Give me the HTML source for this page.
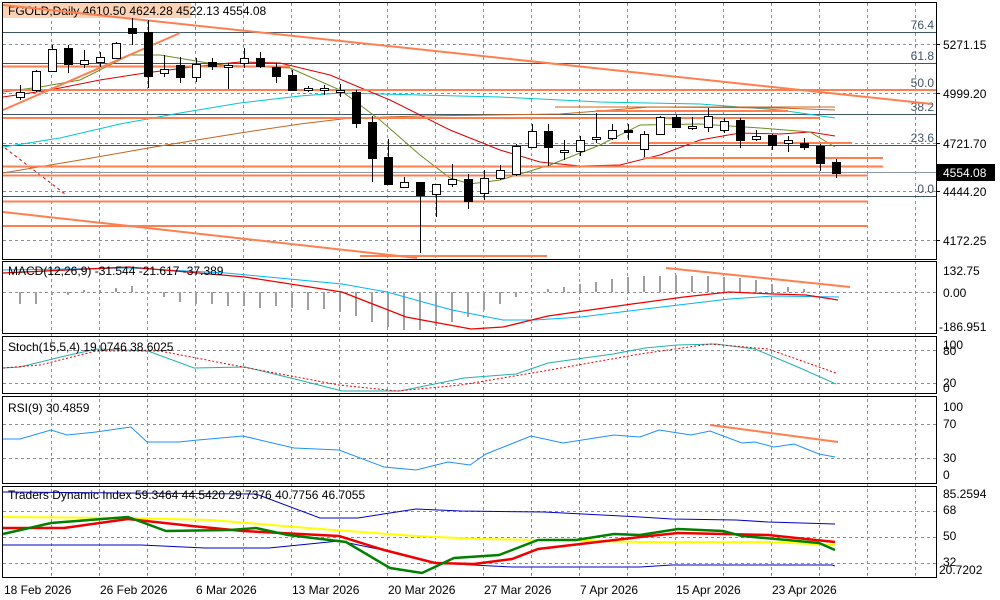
<!DOCTYPE html><html><head><meta charset="utf-8"><style>
body{margin:0;background:#fff;width:1000px;height:600px;overflow:hidden}
svg{display:block;font-family:"Liberation Sans",sans-serif;font-size:12px}
</style></head><body>
<svg width="1000" height="600" xmlns="http://www.w3.org/2000/svg">
<rect width="1000" height="600" fill="#fff"/>
<!-- vertical grid -->
<g stroke="#8a8f98" stroke-dasharray="3,3" stroke-width="1">
<path d="M51.5 3V577M99.5 3V577M147.5 3V577M195.5 3V577M243.5 3V577M291.5 3V577M339.5 3V577M387.5 3V577M435.5 3V577M483.5 3V577M531.5 3V577M579.5 3V577M627.5 3V577M675.5 3V577M723.5 3V577M771.5 3V577M819.5 3V577M867.5 3V577M915.5 3V577"/>
<path d="M3 44.5H936M3 93.5H936M3 143.5H936M3 191.5H936M3 240.5H936"/>
<path d="M3 292.5H936M3 350.5H936M3 383.5H936M3 424.5H936M3 458.5H936M3 511.5H936M3 537.5H936M3 563.5H936"/>
</g>
<!-- fib lines -->
<g stroke="#3f5560" stroke-width="1">
<path d="M3 32.5H936M3 63.5H936M3 90.5H936M3 114.5H936M3 145.5H936M3 196.5H936"/>
</g>
<path d="M3 172.5H936" stroke="#8a9aa6"/>
<g fill="#44576a" font-size="12" text-anchor="end">
<text x="934" y="29">76.4</text><text x="934" y="60">61.8</text><text x="934" y="87">50.0</text><text x="934" y="111">38.2</text><text x="934" y="142">23.6</text><text x="934" y="193">0.0</text>
</g>
<!-- header -->
<rect x="3" y="3" width="188" height="15" fill="#fbd3b4"/>
<text x="8" y="15" fill="#000">FGOLD,Daily  4610.50 4624.28 4522.13 4554.08</text>
<!-- MAs -->
<g fill="none" stroke-width="1">
<polyline stroke="#00c8d0" points="3,147 60,138 120,124 180,113 240,103 300,96 340,93 420,95 500,97 600,102 700,104 780,110 835,118"/>
<polyline stroke="#c8641e" points="3,173 80,160 160,146 240,133 300,124 350,118 420,116 560,114 650,107 780,108 835,110"/>
<polyline stroke="#e00000" points="3,97 50,90 100,80 145,73 200,66 240,62 280,63 330,75 390,100 450,130 500,150 540,162 580,166 620,165 660,155 700,140 740,133 780,134 810,132 835,136"/>
<polyline stroke="#6b8e23" points="3,92 40,87 80,80 130,55 160,55 220,65 290,68 340,90 380,120 420,155 450,178 470,184 500,180 550,165 600,145 640,125 700,124 760,128 810,132 835,147"/>
<polyline stroke="#e00000" stroke-dasharray="3,3" points="5,148 65,194"/>
</g>
<!-- orange lines -->
<g stroke="#ff7f50" stroke-width="2" fill="none">
<path d="M3 5L932 104"/>
<path d="M3 110L180 33"/>
<path d="M3 66.5H290"/>
<path d="M3 90H936"/>
<path d="M3 118H819"/>
<path d="M596 111H788"/>
<path d="M611 143H852"/>
<path d="M643 158H883"/>
<path d="M3 166.5H883"/>
<path d="M3 175.5H868"/>
<path d="M3 201.5H868"/>
<path d="M3 226H868"/>
<path d="M3 212L417 258"/>
<path d="M360 256H547"/>
<path d="M666 268L850 287"/>
<path d="M710 425L838 442"/>
</g>
<path d="M555 107H835" stroke="#c8641e" stroke-width="1"/>
<!-- candles -->
<path stroke="#000" stroke-width="1" d="M20.5 85V100M36.5 70V92M52.5 45V72M68.5 45V73M84.5 50V68M100.5 52V67M116.5 42V58M132.5 18V45M148.5 20V88M164.5 55V77M180.5 57V83M196.5 58V82M212.5 58V70M228.5 63V89M244.5 48V68M260.5 52V68M276.5 63V83M292.5 70V90M308.5 86V92M324.5 85V95M340.5 84V97M356.5 90V128M372.5 116V182M388.5 139V185M404.5 177V187M420.5 182V253M436.5 184V217M452.5 164V187M468.5 174V209M484.5 170V200M500.5 165V180M516.5 144V176M532.5 124V148M548.5 124V166M564.5 140V160M580.5 136V156M596.5 113V143M612.5 124V140M628.5 124V140M644.5 131V157M660.5 116V135M676.5 115V128M692.5 117V130M708.5 108V132M724.5 118V133M740.5 118V148M756.5 130V141M772.5 134V150M788.5 136V152M804.5 138V150M820.5 144V171M836.5 159V178"/>
<g stroke="#000" stroke-width="1" fill="#fff">
<rect x="16.5" y="92.5" width="8" height="5"/><rect x="32.5" y="71.5" width="8" height="19"/><rect x="48.5" y="49.5" width="8" height="22"/>
<rect x="80.5" y="60.5" width="8" height="4"/><rect x="96.5" y="57.5" width="8" height="5"/><rect x="112.5" y="43.5" width="8" height="15"/>
<rect x="160.5" y="69.5" width="8" height="4"/><rect x="192.5" y="64.5" width="8" height="13"/><rect x="224.5" y="65.5" width="8" height="2"/>
<rect x="240.5" y="58.5" width="8" height="5"/><rect x="304.5" y="88.5" width="8" height="2"/><rect x="320.5" y="88.5" width="8" height="2"/><rect x="336.5" y="90.5" width="8" height="2"/>
<rect x="400.5" y="182.5" width="8" height="5"/><rect x="432.5" y="184.5" width="8" height="10"/><rect x="448.5" y="179.5" width="8" height="5"/>
<rect x="480.5" y="178.5" width="8" height="15"/><rect x="496.5" y="170.5" width="8" height="8"/><rect x="512.5" y="146.5" width="8" height="28"/>
<rect x="528.5" y="131.5" width="8" height="16"/><rect x="560.5" y="150.5" width="8" height="2"/><rect x="576.5" y="140.5" width="8" height="11"/>
<rect x="592.5" y="137.5" width="8" height="2"/><rect x="608.5" y="130.5" width="8" height="8"/><rect x="640.5" y="134.5" width="8" height="15"/>
<rect x="656.5" y="117.5" width="8" height="17"/><rect x="688.5" y="126.5" width="8" height="2"/><rect x="704.5" y="116.5" width="8" height="11"/>
<rect x="720.5" y="121.5" width="8" height="9"/><rect x="752.5" y="136.5" width="8" height="3"/><rect x="784.5" y="140.5" width="8" height="3"/>
</g>
<g stroke="#000" stroke-width="1" fill="#000">
<rect x="64.5" y="48.5" width="8" height="16"/><rect x="128.5" y="28.5" width="8" height="5"/><rect x="144.5" y="32.5" width="8" height="44"/>
<rect x="176.5" y="65.5" width="8" height="12"/><rect x="208.5" y="62.5" width="8" height="4"/><rect x="256.5" y="58.5" width="8" height="8"/>
<rect x="272.5" y="67.5" width="8" height="9"/><rect x="288.5" y="75.5" width="8" height="15"/><rect x="352.5" y="92.5" width="8" height="31"/>
<rect x="368.5" y="122.5" width="8" height="36"/><rect x="384.5" y="157.5" width="8" height="27"/><rect x="416.5" y="182.5" width="8" height="13"/>
<rect x="464.5" y="179.5" width="8" height="22"/><rect x="544.5" y="131.5" width="8" height="16"/><rect x="624.5" y="130.5" width="8" height="2"/>
<rect x="672.5" y="117.5" width="8" height="10"/><rect x="736.5" y="120.5" width="8" height="20"/><rect x="768.5" y="135.5" width="8" height="10"/>
<rect x="800.5" y="143.5" width="8" height="4"/><rect x="816.5" y="146.5" width="8" height="17"/><rect x="832.5" y="162.5" width="8" height="11"/>
</g>
<!-- MACD histogram -->
<path stroke="#a0a0a0" stroke-width="2" d="M20 292V304M36 292V304M52 292V295M68 292V295M84 292V290M100 292V290M116 292V288M132 292V286M148 292V294M164 292V297M180 292V302M196 292V304M212 292V304M228 292V306M244 292V306M260 292V308M276 292V306M292 292V308M308 292V310M324 292V309M340 292V312M356 292V316M372 292V322M388 292V327M404 292V330M420 292V330M436 292V326M452 292V322M468 292V317M484 292V310M500 292V304M516 292V297M532 292V294M548 292V289M564 292V287M580 292V284M596 292V282M612 292V279M628 292V277M644 292V276M660 292V276M676 292V275M692 292V276M708 292V276M724 292V277M740 292V278M756 292V280M772 292V284M788 292V287M804 292V289M820 292V291"/>
<g fill="none" stroke-width="1">
<polyline stroke="#00b4ff" points="3,270 129,268 226,273 342,284 387,292 452,310 503,320 535,320 581,317 645,309 729,299 774,296 839,297"/>
<polyline stroke="#f00000" stroke-width="1.3" points="3,273 129,267 245,277 342,292 406,317 471,329 503,327 548,316 632,304 684,297 729,292 774,294 806,295 838,300"/>
<!-- stoch -->
<polyline stroke="#20b2aa" points="3,368 20,367 65,356 97,349 148,351 194,368 245,367 303,381 342,391 400,391 464,378 516,374 548,363 613,354 645,348 677,345 716,344 755,349 800,368 836,384"/>
<polyline stroke="#f00000" stroke-dasharray="2,2" points="3,368 40,365 96,351 160,351 243,367 339,385 397,391 461,385 544,371 640,354 710,344 768,349 836,373"/>
<!-- RSI -->
<polyline stroke="#1e90ff" points="3,439 20,439 51,430 67,435 96,432 131,427 147,442 179,442 198,440 243,436 294,448 339,450 384,467 416,470 448,462 470,465 486,454 531,436 563,443 614,435 640,437 659,430 691,435 710,431 742,443 755,442 774,447 794,444 819,454 835,457"/>
<!-- TDI -->
<polyline stroke="#0000c8" points="3,492 256,494 320,518 358,518 416,509 461,511 544,512 640,517 672,519 736,520 768,522 835,524"/>
<polyline stroke="#0000c8" points="3,545 141,545 205,548 269,548 339,541 397,553 435,563 512,567 640,567 672,565 832,565 835,566"/>
<polyline stroke="#ffff00" stroke-width="2" points="3,517 128,518 211,520 320,529 416,536 480,539 640,542 768,542 835,545"/>
<polyline stroke="#f00000" stroke-width="2.5" points="3,528 64,528 128,519 192,526 243,531 339,536 384,550 435,563 474,564 512,559 538,549 589,543 640,537 678,533 768,535 835,542"/>
<polyline stroke="#008000" stroke-width="2.5" points="3,534 51,523 128,517 166,531 230,530 256,528 288,535 346,542 390,568 422,573 454,558 499,555 538,540 576,540 614,534 640,535 678,529 723,531 742,536 787,540 819,543 835,550"/>
</g>
<!-- panel borders -->
<g fill="none" stroke="#000" stroke-width="1">
<rect x="2.5" y="2.5" width="934" height="257"/>
<rect x="2.5" y="261.5" width="934" height="72"/>
<rect x="2.5" y="336.5" width="934" height="57"/>
<rect x="2.5" y="396.5" width="934" height="87"/>
<rect x="2.5" y="486.5" width="934" height="91"/>
</g>
<g fill="#000">
<text x="8" y="275">MACD(12,26,9) -31.544 -21.617 -37.389</text>
<text x="8" y="351">Stoch(15,5,4) 19.0746 38.6025</text>
<text x="8" y="412">RSI(9) 30.4859</text>
<text x="8" y="499">Traders Dynamic Index 59.3464 44.5420 29.7376 40.7756 46.7055</text>
</g>
<!-- right axis -->
<g fill="#000">
<text x="943" y="49">5271.15</text><text x="943" y="98">4999.20</text><text x="943" y="148">4721.70</text><text x="943" y="196">4444.20</text><text x="943" y="245">4172.25</text>
<rect x="937" y="164" width="58" height="17"/>
<text x="943" y="177" fill="#fff">4554.08</text>
<text x="943" y="275">132.75</text><text x="943" y="297">0.00</text><text x="939" y="331">-186.951</text>
<text x="943" y="349">100</text><text x="943" y="355">80</text><text x="943" y="387">20</text><text x="943" y="392">0</text>
<text x="943" y="411">100</text><text x="943" y="428">70</text><text x="943" y="462">30</text><text x="943" y="479">0</text>
<text x="943" y="498">85.2594</text><text x="943" y="514">68</text><text x="943" y="540">50</text><text x="943" y="566">32</text><text x="939" y="574">20.7202</text>
</g>
<path d="M936 44.5h4M936 93.5h4M936 143.5h4M936 191.5h4M936 240.5h4" stroke="#000"/>
<!-- dates -->
<g fill="#000">
<text x="4" y="594">18 Feb 2026</text><text x="100" y="594">26 Feb 2026</text><text x="196" y="594">6 Mar 2026</text><text x="292" y="594">13 Mar 2026</text><text x="388" y="594">20 Mar 2026</text><text x="484" y="594">27 Mar 2026</text><text x="580" y="594">7 Apr 2026</text><text x="676" y="594">15 Apr 2026</text><text x="772" y="594">23 Apr 2026</text>
</g>
</svg>
</body></html>
